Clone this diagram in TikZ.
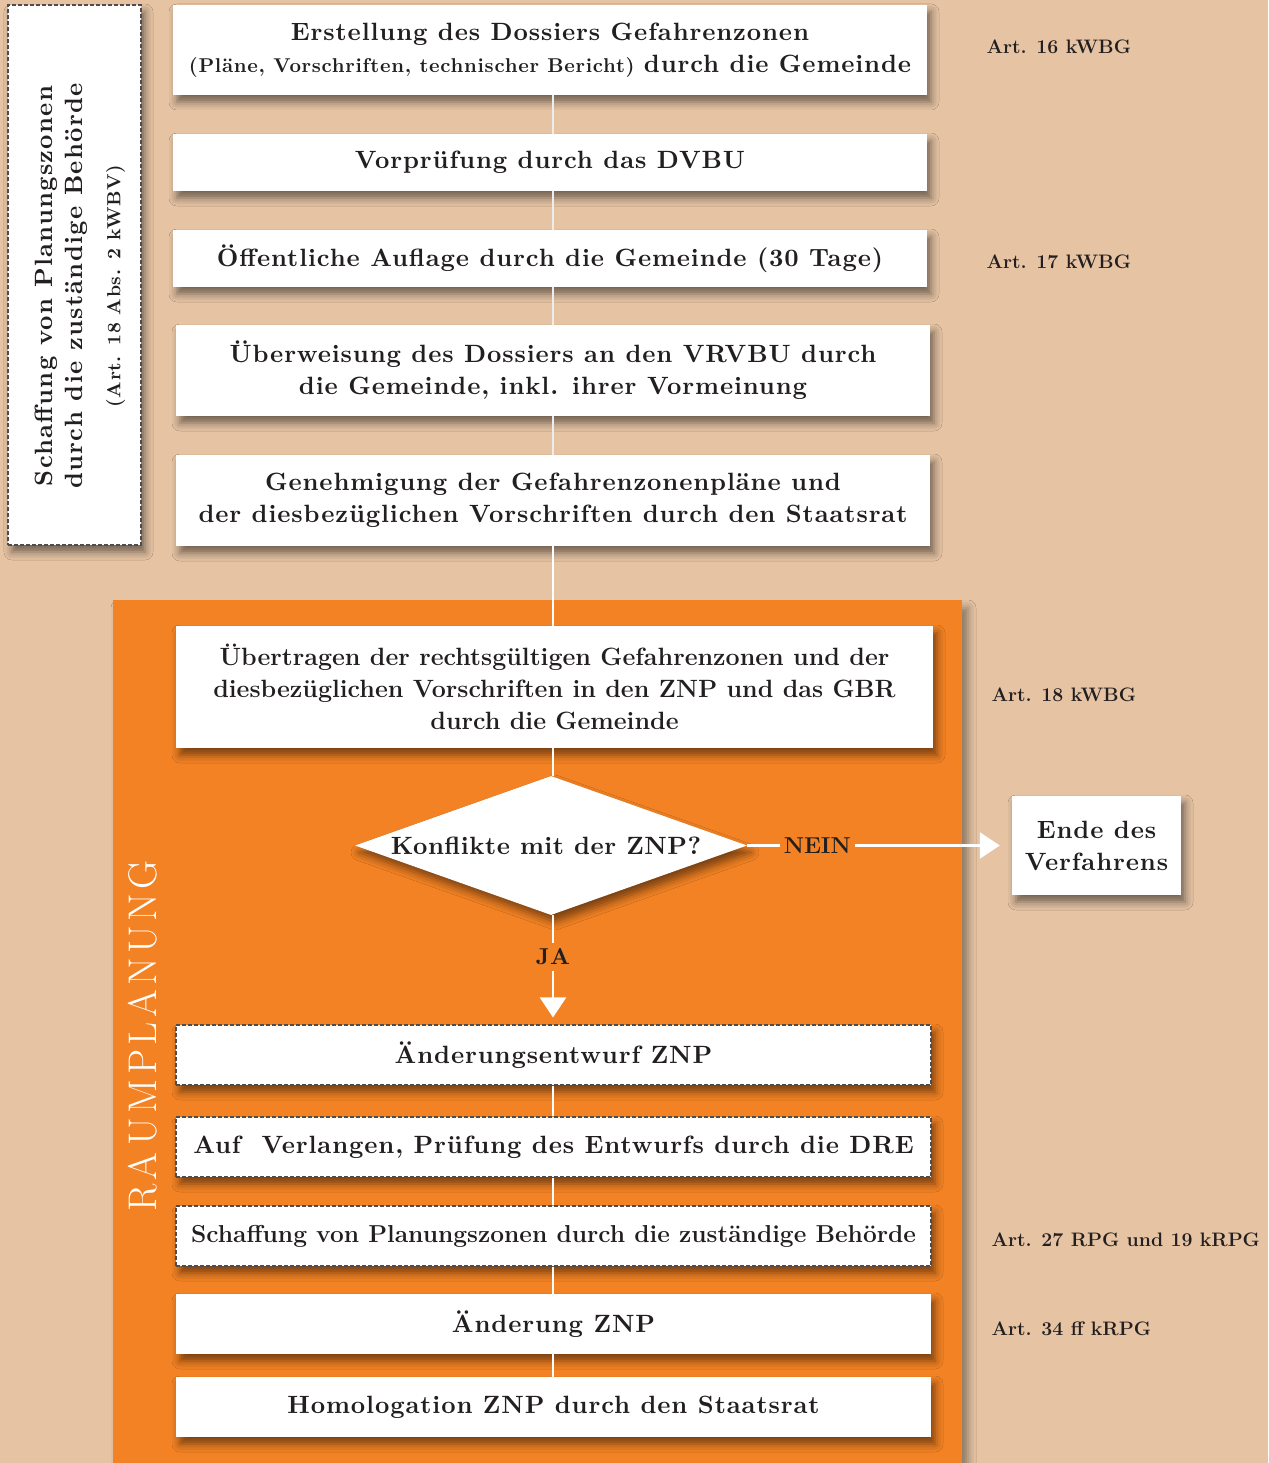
\documentclass[tikz,border=0pt]{standalone}
\usepackage{fontspec}
\newfontfamily\lsbfont{lmroman10-bold.otf}[LetterSpace=3.5]
\newfontfamily\lsbwide{lmroman10-bold.otf}[LetterSpace=5]
\newfontfamily\lsbnarrow{lmroman10-bold.otf}[LetterSpace=2]
\usetikzlibrary{shapes.geometric,arrows.meta,shadows.blur}
\definecolor{bgtan}{HTML}{E5C3A3}
\definecolor{orng}{HTML}{F28224}
\definecolor{ink}{HTML}{231F20}
\definecolor{conn}{HTML}{EDEDED}
\newcommand{\lsp}{\lsbfont}
\newcommand{\rk}{\kern4.4pt}
\tikzset{
  shd/.style={blur shadow={shadow xshift=4pt,shadow yshift=-7pt,shadow blur radius=8pt,shadow opacity=50}},
  box/.style={rectangle,fill=white,text=ink,align=center,inner sep=0pt,shd,
    font=\fontsize{25}{32}\selectfont\bfseries},
  dbox/.style={box,draw=ink!80,dashed,dash pattern=on 4pt off 2pt,line width=1.1pt},
  connline/.style={draw=conn,line width=2.2pt},
  wline/.style={draw=white,line width=2.5pt},
  lbl/.style={text=ink,anchor=west,font=\fontsize{19.5}{22}\selectfont\bfseries},
  tip/.style={-{Triangle[width=26pt,length=20pt]}},
}
\begin{document}
\begin{tikzpicture}[x=1pt,y=-1pt]
\useasboundingbox (0,0) rectangle (1268,1463);
\fill[bgtan] (0,0) rectangle (1268,1463);
\path[fill=orng,blur shadow={shadow xshift=6pt,shadow yshift=-8pt,shadow blur radius=8pt,shadow opacity=40}] (113,600) rectangle (962,1490);
\coordinate (spine) at (553,0);

% left dashed box
\node[dbox,minimum width=133pt,minimum height=540pt] (side) at (74.5,275) {};
\node[text=ink,rotate=90,align=center,font=\fontsize{25}{30}\selectfont\lsbwide] (sidetxt) at (80,286)
  {Schaffung von Planungszonen\\durch die zuständige Behörde\\[8pt]{\fontsize{19}{24}\selectfont\lsp(Art. 18 Abs. 2 kWBV)}};

\node[box,minimum width=754pt,minimum height=90pt] (b1) at (550,50) {\lsp Erstellung des Dossiers Gefahrenzonen\\{\fontsize{20}{20}\selectfont\lsp(Pläne, Vorschriften, technischer Bericht)} \lsp durch die Gemeinde};
\node[box,minimum width=754pt,minimum height=57pt] (b2) at (550,162.5) {\lsp Vorprüfung durch das DVBU};
\node[box,minimum width=754pt,minimum height=57pt] (b3) at (550,258.5) {\lsp Öffentliche Auflage durch die Gemeinde (30 Tage)};
\node[box,minimum width=754pt,minimum height=91pt] (b4) at (553,370.5) {\lsp Überweisung des Dossiers an den VRVBU durch\\\lsp die Gemeinde, inkl. ihrer Vormeinung};
\node[box,minimum width=754pt,minimum height=91pt] (b5) at (553,500.5) {\lsp Genehmigung der Gefahrenzonenpläne und\\\lsp der diesbezüglichen Vorschriften durch den Staatsrat};
\node[box,minimum width=757pt,minimum height=122pt] (b6) at (554.5,687) {Übertragen der rechtsgültigen Gefahrenzonen und der\\diesbezüglichen Vorschriften in den ZNP und das GBR\\durch die Gemeinde};
\node[box,diamond,shape aspect=2.8,minimum width=392pt,minimum height=139pt] (dia) at (551,845.5) {\lsbnarrow Konflikte mit der ZNP?\hspace*{10pt}};
\node[box,minimum width=169pt,minimum height=99pt] (ende) at (1096.5,845.5) {\lsp Ende des\\\lsp Verfahrens};
\node[dbox,minimum width=755pt,minimum height=60pt] (b7) at (553.5,1055) {\lsp Änderungsentwurf ZNP};
\node[dbox,minimum width=755pt,minimum height=60pt] (b8) at (553.5,1147) {\lsp Auf~~Verlangen, Prüfung des Entwurfs durch die DRE};
\node[dbox,minimum width=755pt,minimum height=60pt] (b9) at (553.5,1236) {\fontsize{24.5}{32}\selectfont Schaffung von Planungszonen durch die zuständige Behörde};
\node[box,minimum width=755pt,minimum height=60pt] (b10) at (553.5,1324) {\lsp Änderung ZNP};
\node[box,minimum width=755pt,minimum height=60pt] (b11) at (553.5,1407) {\lsp Homologation ZNP durch den Staatsrat};

\draw[connline] (b1.south -| spine) -- (b2.north -| spine);
\draw[connline] (b2.south -| spine) -- (b3.north -| spine);
\draw[connline] (b3.south -| spine) -- (b4.north -| spine);
\draw[connline] (b4.south -| spine) -- (b5.north -| spine);
\draw[wline] (b5.south -| spine) -- (b6.north -| spine);
\draw[wline] (b6.south -| spine) -- (dia.north -| spine);
\draw[wline,tip,shorten >=7pt] (dia.south -| spine) -- node[fill=orng,text=ink,inner sep=6pt,font=\fontsize{23}{26}\selectfont\bfseries\lsp,pos=0.38] (ja) {JA} (b7.north -| spine);
\draw[wline,tip,shorten >=12pt] (dia.east) -- node[fill=orng,text=ink,inner xsep=4pt,font=\fontsize{23}{26}\selectfont\bfseries,pos=0.265] (nein) {NEIN} (ende.west);
\draw[wline] (b7.south -| spine) -- (b8.north -| spine);
\draw[wline] (b8.south -| spine) -- (b9.north -| spine);
\draw[wline] (b9.south -| spine) -- (b10.north -| spine);
\draw[wline] (b10.south -| spine) -- (b11.north -| spine);

\node[text=white,rotate=90,font=\fontsize{40}{44}\selectfont] (rp) at (143,1036) {R\rk A\rk\kern3pt U\rk M\rk P\rk L\rk A\rk N\rk U\rk N\rk G};

\node[lbl] (a16) at (983,47) {Art. 16 kWBG};
\node[lbl] (a17) at (983,262) {Art. 17 kWBG};
\node[lbl] (a18) at (988,695) {Art. 18 kWBG};
\node[lbl] (a27) at (988,1240) {Art. 27 RPG und 19 kRPG};
\node[lbl] (a34) at (988,1329) {Art. 34 ff kRPG};
\end{tikzpicture}
\end{document}
